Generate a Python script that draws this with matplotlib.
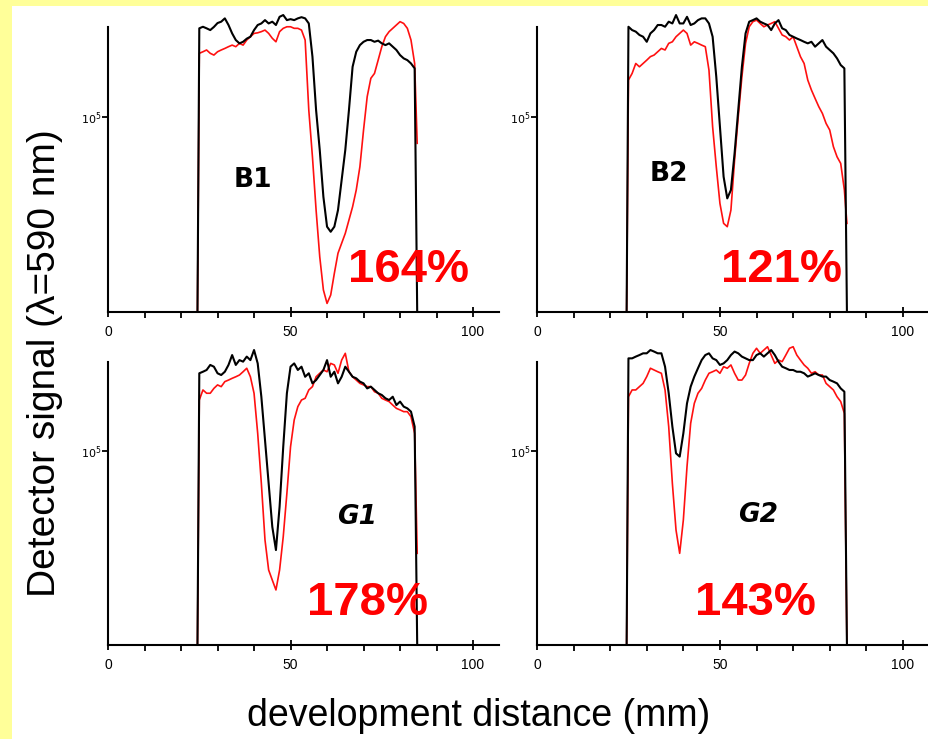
import numpy as np
import matplotlib.pyplot as plt
from matplotlib.patches import Rectangle

# development distance (mm), sampled every 1 mm between the plate edges
dist = np.arange(25, 85)
x_start, x_end = 24.5, 84.7

# detector signal in units of 10^3 counts, black = before, red = after
b1_black = [145.3, 146.1, 145.3, 144.4, 146.0, 148.0, 148.7, 150.4, 147.0, 142.7,
            139.3, 137.6, 138.4, 140.0, 141.0, 144.4, 147.0, 147.8, 149.5, 147.8,
            148.7, 147.0, 151.2, 152.1, 149.5, 150.0, 149.5, 150.4, 151.0, 150.4,
            147.8, 130.8, 103.4, 83.0, 59.0, 43.7, 41.1, 43.7, 52.2, 67.6,
            83.0, 103.4, 125.6, 133.3, 136.7, 138.4, 139.3, 139.3, 138.4, 139.0,
            137.6, 136.7, 137.6, 135.9, 134.2, 131.6, 129.9, 129.0, 127.3, 124.8]
b1_red = [132.5, 133.3, 134.2, 132.5, 131.6, 133.3, 134.2, 135.0, 135.9, 136.7,
          135.9, 137.6, 136.7, 139.3, 141.0, 142.7, 143.0, 143.6, 144.4, 142.7,
          140.2, 138.4, 143.6, 145.3, 146.1, 146.1, 145.3, 145.3, 144.4, 139.3,
          103.4, 79.5, 52.2, 28.3, 11.3, 4.4, 8.7, 19.8, 30.1, 35.2,
          40.3, 47.1, 53.9, 62.5, 74.4, 93.2, 110.3, 119.7, 122.2, 129.0,
          135.9, 141.0, 143.6, 145.3, 147.0, 148.7, 147.8, 145.3, 139.3, 127.3]

b2_black = [146.1, 144.4, 143.6, 141.9, 141.0, 138.4, 142.7, 144.4, 147.0, 147.0,
            146.1, 148.7, 147.8, 152.1, 147.8, 147.8, 151.2, 147.0, 147.8, 149.5,
            150.4, 150.4, 147.8, 141.0, 120.5, 94.9, 69.3, 58.2, 62.5, 81.3,
            103.4, 125.6, 142.7, 148.7, 149.5, 150.4, 148.7, 147.8, 147.0, 144.4,
            147.8, 149.5, 145.3, 144.4, 141.9, 141.0, 140.1, 139.3, 138.4, 137.6,
            138.4, 135.9, 137.6, 139.3, 135.9, 134.2, 132.5, 129.9, 126.5, 124.8]
b2_red = [118.8, 122.2, 127.3, 125.6, 127.3, 129.0, 130.8, 131.6, 133.3, 135.0,
          134.2, 137.6, 138.4, 141.0, 142.7, 144.4, 142.7, 136.7, 138.4, 137.6,
          136.7, 135.9, 123.9, 94.9, 74.4, 55.6, 45.4, 43.7, 52.2, 77.8,
          100.0, 120.5, 137.6, 146.1, 148.7, 149.5, 147.8, 146.1, 147.0, 147.8,
          148.7, 145.3, 141.9, 141.0, 139.3, 141.0, 135.9, 130.8, 127.3, 118.8,
          113.7, 109.4, 105.2, 101.7, 96.6, 93.2, 84.7, 79.5, 76.1, 62.5]

g1_black = [140.2, 141.0, 141.9, 144.5, 143.6, 140.2, 139.3, 141.0, 144.5, 149.6,
            144.5, 147.0, 146.2, 148.8, 147.0, 152.2, 145.3, 128.1, 105.8, 83.4,
            61.0, 49.0, 71.4, 102.3, 129.9, 143.6, 145.3, 141.9, 143.6, 138.4,
            140.2, 135.0, 136.7, 139.3, 141.9, 147.0, 138.4, 141.0, 135.0, 138.4,
            143.6, 141.0, 138.4, 137.6, 135.9, 135.0, 132.4, 133.3, 131.6, 129.9,
            129.0, 127.3, 126.4, 128.1, 123.8, 125.6, 123.0, 122.1, 120.4, 112.7]
g1_red = [126.4, 131.6, 129.9, 129.9, 132.4, 134.2, 133.3, 135.9, 136.7, 137.6,
          138.4, 139.3, 141.0, 142.8, 138.4, 129.9, 109.2, 83.4, 54.2, 38.7,
          33.5, 28.4, 38.7, 55.9, 78.3, 102.3, 116.1, 123.0, 126.4, 127.3,
          131.6, 133.3, 138.4, 140.2, 141.9, 141.0, 145.3, 144.5, 140.2, 147.0,
          150.5, 141.0, 138.4, 136.7, 135.0, 134.2, 133.3, 133.3, 130.7, 129.9,
          127.3, 126.4, 125.6, 123.8, 122.1, 121.3, 120.4, 120.4, 117.8, 109.2]

g2_black = [147.9, 147.9, 148.8, 149.6, 150.5, 150.5, 152.2, 151.4, 150.5, 150.5,
            143.6, 129.9, 112.7, 98.9, 97.2, 109.2, 124.7, 133.3, 138.5, 142.8,
            147.0, 149.6, 150.5, 147.9, 147.0, 144.5, 145.3, 147.0, 149.6, 151.4,
            150.5, 148.8, 147.9, 147.0, 147.0, 149.6, 150.5, 148.8, 150.5, 152.2,
            149.6, 146.2, 143.6, 142.8, 141.9, 141.9, 141.0, 141.0, 140.2, 138.5,
            139.3, 140.2, 139.3, 138.5, 138.5, 136.7, 135.9, 135.0, 132.4, 130.7]
g2_red = [128.1, 131.6, 131.6, 133.3, 135.0, 138.5, 142.8, 141.9, 141.0, 140.2,
          131.6, 112.7, 83.4, 59.3, 47.3, 64.5, 92.0, 114.4, 124.7, 129.9,
          132.4, 136.7, 140.2, 141.0, 141.9, 140.2, 143.6, 142.8, 144.5, 140.2,
          136.7, 136.7, 139.3, 145.3, 150.5, 153.1, 150.5, 152.2, 153.9, 149.6,
          145.3, 147.0, 146.2, 149.6, 153.1, 153.9, 149.6, 147.0, 144.5, 142.8,
          140.2, 141.0, 139.3, 139.3, 135.0, 133.3, 131.6, 128.1, 125.6, 119.5]

# where the red trace stops after its last point at the plate edge
red_end = [86.4, 45.4, 47.3, 0.0]

names = ['B1', 'B2', 'G1', 'G2']
percents = ['164%', '121%', '178%', '143%']
name_pos = [(39.7, 67.6), (36.1, 70.7), (68.2, 66.0), (60.4, 67.0)]
pct_pos = [(82.2, 21.5), (66.9, 21.5), (71.0, 21.7), (59.8, 21.7)]
blacks = [b1_black, b2_black, g1_black, g2_black]
reds = [b1_red, b2_red, g1_red, g2_red]

W, H = 929, 739
fig = plt.figure(figsize=(W / 100, H / 100), dpi=100, facecolor='#FFFF99')
fig.patches.append(Rectangle((12 / W, 0), 1, 1 - 6 / H, transform=fig.transFigure,
                             facecolor='white', edgecolor='none', zorder=-10))

boxes = [[0.1163, 0.5778, 0.4204, 0.4095],
         [0.5780, 0.5778, 0.4215, 0.4095],
         [0.1163, 0.1272, 0.4204, 0.4065],
         [0.5780, 0.1272, 0.4215, 0.4065]]

for i in range(4):
    ax = fig.add_axes(boxes[i])
    ax.set_facecolor('none')
    xs = np.concatenate([[x_start], dist, [x_end]])
    yr = np.concatenate([[0.0], reds[i], [red_end[i]]])
    yb = np.concatenate([[0.0], blacks[i], [0.0]])
    ax.plot(xs, yr, color='#FF1010', linewidth=1.2)
    ax.plot(xs, yb, color='black', linewidth=1.5)

    ax.set_xlim(0, 107)
    ax.set_ylim(0, 155)
    ax.spines['top'].set_visible(False)
    ax.spines['right'].set_visible(False)
    ax.spines['left'].set_bounds(0, 146)
    ax.spines['left'].set_linewidth(1.5)
    ax.spines['bottom'].set_linewidth(1.5)

    ax.set_xticks([0, 50, 100])
    ax.set_xticks([10, 20, 30, 40, 60, 70, 80, 90], minor=True)
    ax.set_xticklabels(['0', '50', '100'], fontsize=10, family='Liberation Sans')
    ax.tick_params(axis='x', which='major', direction='inout', length=7, width=1.3, pad=6)
    ax.tick_params(axis='x', which='minor', direction='out', length=4, width=1.3)
    ax.set_yticks([100])
    ax.set_yticklabels([r'$10^5$'], fontsize=8)
    ax.tick_params(axis='y', direction='out', length=4, width=1.3, pad=1)

    ax.text(name_pos[i][0], name_pos[i][1], names[i], fontsize=19, fontweight='bold',
            style='italic' if names[i][0] == 'G' else 'normal',
            ha='center', va='center', family='DejaVu Sans')
    ax.text(pct_pos[i][0], pct_pos[i][1], percents[i], fontsize=34, fontweight='bold',
            color='#FF0000', ha='center', va='center', family='Liberation Sans')

fig.text(45 / W, 1 - 363 / H, 'Detector signal (λ=590 nm)', rotation=90,
         ha='center', va='center', fontsize=28, family='Liberation Sans')
fig.text(479 / W, 1 - 716 / H, 'development distance (mm)',
         ha='center', va='center', fontsize=27, family='Liberation Sans')

plt.savefig('out.png', dpi=100, facecolor=fig.get_facecolor())
